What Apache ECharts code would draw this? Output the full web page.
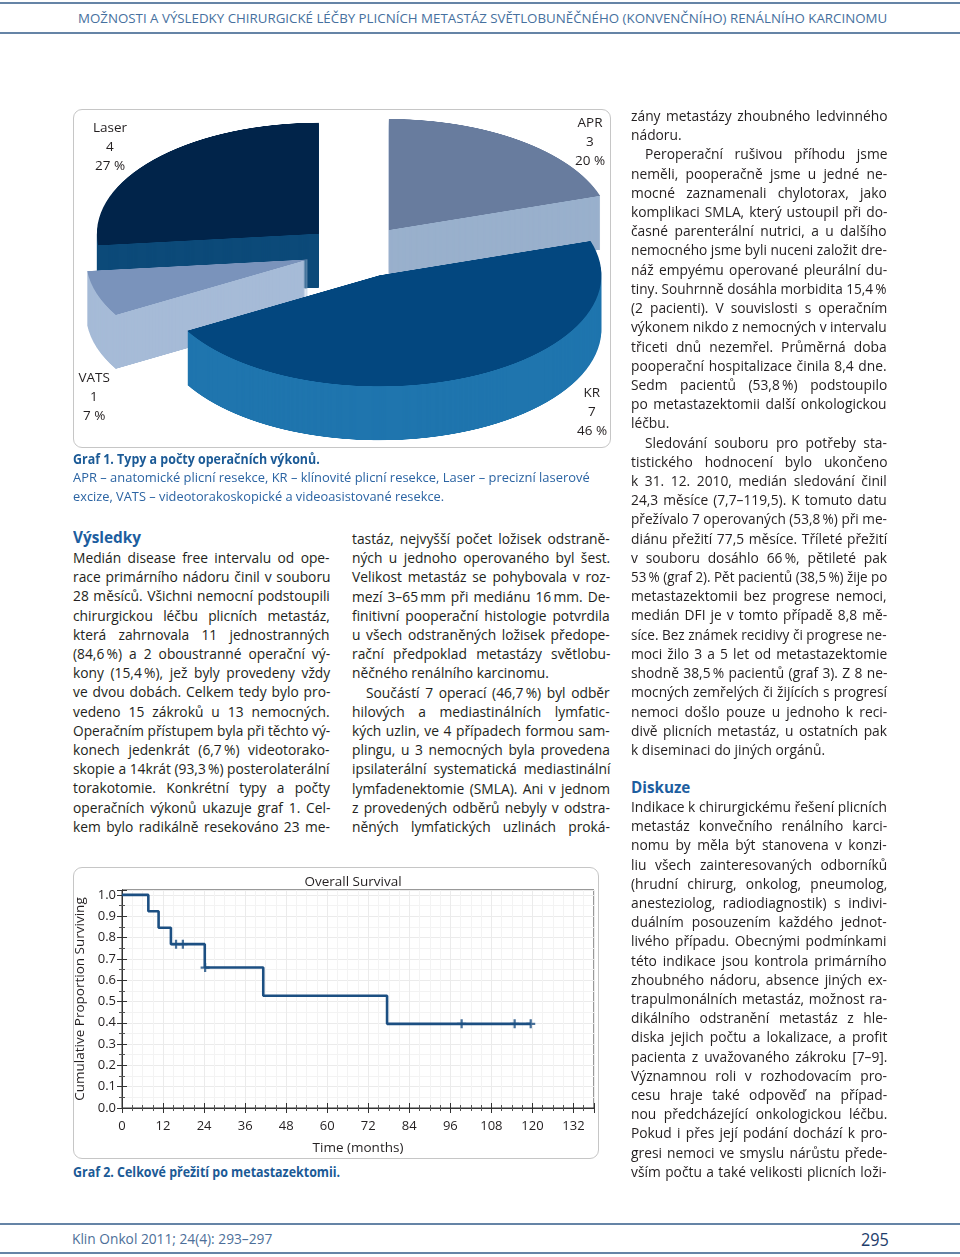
<!DOCTYPE html>
<html><head><meta charset="utf-8">
<script src="https://cdn.jsdelivr.net/npm/echarts@6.0.0/dist/echarts.min.js"></script>
<style>
html,body{margin:0;padding:0;background:#fff;}
body{width:960px;height:1257px;position:relative;overflow:hidden;font-family:"Open Sans","Noto Sans",sans-serif;}
.abs{position:absolute;white-space:nowrap;}
.rule{position:absolute;left:0;width:960px;height:2px;background:#6584a6;}
.frame{position:absolute;border:1px solid #c6c6c6;border-radius:9px;box-sizing:border-box;}
</style></head><body>
<div class="rule" style="top:2px"></div>
<div class="rule" style="top:32px"></div>
<div class="rule" style="top:1223px"></div>
<div class="rule" style="top:1252px"></div>
<div class="frame" style="left:73px;top:109px;width:538px;height:339px"></div>
<div class="frame" style="left:73px;top:867px;width:526px;height:292px"></div>
<div id="pie" style="position:absolute;left:0;top:108px;width:960px;height:720px;transform:scaleY(0.5);transform-origin:0 0;"></div>
<div id="surv" style="position:absolute;left:73px;top:867px;width:526px;height:292px;"></div>
<div id="txt"></div>
<script>
// ---------------- DATA ----------------
// Graf 1 – pie
const pieCategories = ['APR', 'KR', 'VATS', 'Laser'];
const pieCounts = [3, 7, 1, 4];
const piePercents = [20, 46, 7, 27];
// Graf 2 – Kaplan-Meier overall survival
const survTimes  = [0, 7.7, 10.7, 14.3, 24.2, 41.3, 77.5, 119.5];
const survValues = [1.0, 0.923, 0.846, 0.769, 0.659, 0.527, 0.395, 0.395];
const censorTimes  = [15.8, 17.8, 24.3, 99.3, 114.8, 119.5];
const censorValues = [0.769, 0.769, 0.659, 0.395, 0.395, 0.395];
const xTickStep = 12;
const xTickMaxLabel = 132;
const yTickStep = 0.1;

// ---------------- STYLES ----------------
const FONT = '"Open Sans","Noto Sans",sans-serif';
const pieTopColors  = ['#687c9e', '#03477f', '#7a93bb', '#01244a'];
const pieSideColors = ['#99b0cc', '#1f75ae', '#a6bbd7', '#0c4a79'];
const pieLabelPos = { APR:[590,123], KR:[592,393], VATS:[94,378], Laser:[110,128] };
const BODY_SIZE = 13.8;

// ---------------- TEXT HELPERS ----------------
const txt = document.getElementById('txt');
function addLine(text, o) {
  const d = document.createElement('div');
  d.className = 'abs';
  d.style.left = o.x + 'px';
  d.style.top = (o.yc - 11) + 'px';
  d.style.height = '20px';
  d.style.font = (o.weight || 400) + ' ' + o.size + 'px ' + FONT;
  d.style.lineHeight = '20px';
  d.style.color = o.color || '#231f20';
  d.style.transformOrigin = '0 50%';
  const s = document.createElement('span');
  s.textContent = text;
  d.appendChild(s);
  txt.appendChild(d);
  const nat = s.offsetWidth;
  if (o.mode === 'fit') {
    d.style.transform = 'scaleX(' + (o.w / nat) + ')';
  } else if (o.mode === 'justify') {
    if (nat > o.w) {
      d.style.transform = 'scaleX(' + (o.w / nat) + ')';
    } else {
      const n = (text.match(/ /g) || []).length;
      if (n > 0) s.style.wordSpacing = ((o.w - nat) / n) + 'px';
    }
  } else if (o.mode === 'shrink') {
    if (nat > o.w) d.style.transform = 'scaleX(' + (o.w / nat) + ')';
  }
  return d;
}
function addColumn(lines, x, w, y0, lh) {
  lines.forEach((raw, i) => {
    let t = raw, indent = 0, mode = 'justify';
    if (t.startsWith('>')) { indent = 14; t = t.slice(1); }
    if (t.endsWith('¶')) { mode = 'shrink'; t = t.slice(0, -1); }
    addLine(t, { x: x + indent, yc: y0 + i * lh, w: w - indent, size: BODY_SIZE, mode });
  });
}

// header / footer
addLine('MOŽNOSTI A VÝSLEDKY CHIRURGICKÉ LÉČBY PLICNÍCH METASTÁZ SVĚTLOBUNĚČNÉHO (KONVENČNÍHO) RENÁLNÍHO KARCINOMU',
  { x: 78, yc: 19, w: 809, size: 13.5, color: '#46709e', mode: 'fit' });
addLine('Klin Onkol 2011; 24(4): 293–297', { x: 72, yc: 1240, w: 200, size: 14, color: '#4d6f99', mode: 'fit' });
addLine('295', { x: 861, yc: 1240, w: 28, size: 18, color: '#1e3d6b', mode: 'fit' });

// captions and headings
const BLUE = '#1b5a96';
addLine('Graf 1. Typy a počty operačních výkonů.', { x: 73, yc: 460, w: 247, size: 13.5, weight: 700, color: BLUE, mode: 'fit' });
addLine('APR – anatomické plicní resekce, KR – klínovité plicní resekce, Laser – precizní laserové', { x: 73, yc: 478, w: 517, size: 13.5, color: '#2b64a3', mode: 'fit' });
addLine('excize, VATS – videotorakoskopické a videoasistované resekce.', { x: 73, yc: 497, w: 371, size: 13.5, color: '#2b64a3', mode: 'fit' });
addLine('Graf 2. Celkové přežití po metastazektomii.', { x: 73, yc: 1173, w: 267, size: 13.5, weight: 700, color: BLUE, mode: 'fit' });
addLine('Výsledky', { x: 73, yc: 538, w: 68, size: 16, weight: 700, color: '#1d5e9f', mode: 'fit' });
addLine('Diskuze', { x: 631, yc: 788, w: 59, size: 16, weight: 700, color: '#1d5e9f', mode: 'fit' });

const colLeft = [
  'Medián disease free intervalu od ope-',
  'race primárního nádoru činil v souboru',
  '28 měsíců. Všichni nemocní podstoupili',
  'chirurgickou léčbu plicních metastáz,',
  'která zahrnovala 11 jednostranných',
  '(84,6\u2009%) a 2 oboustranné operační vý-',
  'kony (15,4\u2009%), jež byly provedeny vždy',
  've dvou dobách. Celkem tedy bylo pro-',
  'vedeno 15 zákroků u 13 nemocných.',
  'Operačním přístupem byla při těchto vý-',
  'konech jedenkrát (6,7\u2009%) videotorako-',
  'skopie a 14krát (93,3\u2009%) posterolaterální',
  'torakotomie. Konkrétní typy a počty',
  'operačních výkonů ukazuje graf 1. Cel-',
  'kem bylo radikálně resekováno 23 me-'
];
const colMid = [
  'tastáz, nejvyšší počet ložisek odstraně-',
  'ných u jednoho operovaného byl šest.',
  'Velikost metastáz se pohybovala v roz-',
  'mezí 3–65\u2009mm při mediánu 16\u2009mm. De-',
  'finitivní pooperační histologie potvrdila',
  'u všech odstraněných ložisek předope-',
  'rační předpoklad metastázy světlobu-',
  'něčného renálního karcinomu.¶',
  '>Součástí 7 operací (46,7\u2009%) byl odběr',
  'hilových a mediastinálních lymfatic-',
  'kých uzlin, ve 4 případech formou sam-',
  'plingu, u 3 nemocných byla provedena',
  'ipsilaterální systematická mediastinální',
  'lymfadenektomie (SMLA). Ani v jednom',
  'z provedených odběrů nebyly v odstra-',
  'něných lymfatických uzlinách proká-'
];
const colRight = [
  'zány metastázy zhoubného ledvinného',
  'nádoru.¶',
  '>Peroperační rušivou příhodu jsme',
  'neměli, pooperačně jsme u jedné ne-',
  'mocné zaznamenali chylotorax, jako',
  'komplikaci SMLA, který ustoupil při do-',
  'časné parenterální nutrici, a u dalšího',
  'nemocného jsme byli nuceni založit dre-',
  'náž empyému operované pleurální du-',
  'tiny. Souhrnně dosáhla morbidita 15,4\u2009%',
  '(2 pacienti). V souvislosti s operačním',
  'výkonem nikdo z nemocných v intervalu',
  'třiceti dnů nezemřel. Průměrná doba',
  'pooperační hospitalizace činila 8,4 dne.',
  'Sedm pacientů (53,8\u2009%) podstoupilo',
  'po metastazektomii další onkologickou',
  'léčbu.¶',
  '>Sledování souboru pro potřeby sta-',
  'tistického hodnocení bylo ukončeno',
  'k 31. 12. 2010, medián sledování činil',
  '24,3 měsíce (7,7–119,5). K tomuto datu',
  'přežívalo 7 operovaných (53,8\u2009%) při me-',
  'diánu přežití 77,5 měsíce. Tříleté přežití',
  'v souboru dosáhlo 66\u2009%, pětileté pak',
  '53\u2009% (graf 2). Pět pacientů (38,5\u2009%) žije po',
  'metastazektomii bez progrese nemoci,',
  'medián DFI je v tomto případě 8,8 mě-',
  'síce. Bez známek recidivy či progrese ne-',
  'moci žilo 3 a 5 let od metastazektomie',
  'shodně 38,5\u2009% pacientů (graf 3). Z 8 ne-',
  'mocných zemřelých či žijících s progresí',
  'nemoci došlo pouze u jednoho k reci-',
  'divě plicních metastáz, u ostatních pak',
  'k diseminaci do jiných orgánů.¶'
];
const colRight2 = [
  'Indikace k chirurgickému řešení plicních',
  'metastáz konvečního renálního karci-',
  'nomu by měla být stanovena v konzi-',
  'liu všech zainteresovaných odborníků',
  '(hrudní chirurg, onkolog, pneumolog,',
  'anesteziolog, radiodiagnostik) s indivi-',
  'duálním posouzením každého jednot-',
  'livého případu. Obecnými podmínkami',
  'této indikace jsou kontrola primárního',
  'zhoubného nádoru, absence jiných ex-',
  'trapulmonálních metastáz, možnost ra-',
  'dikálního odstranění metastáz z hle-',
  'diska jejich počtu a lokalizace, a profit',
  'pacienta z uvažovaného zákroku [7–9].',
  'Významnou roli v rozhodovacím pro-',
  'cesu hraje také odpověď na případ-',
  'nou předcházející onkologickou léčbu.',
  'Pokud i přes její podání dochází k pro-',
  'gresi nemoci ve smyslu nárůstu přede-',
  'vším počtu a také velikosti plicních loži-'
];
addColumn(colLeft, 73, 257, 559, 19.2);
addColumn(colMid, 352, 258, 540, 19.2);
addColumn(colRight, 631, 256, 117, 19.21);
addColumn(colRight2, 631, 256, 808, 19.2);

// pie labels (text built from data arrays)
pieCategories.forEach((name, i) => {
  const p = pieLabelPos[name];
  [name, String(pieCounts[i]), piePercents[i] + ' %'].forEach((t, j) => {
    const d = addLine(t, { x: 0, yc: p[1] + j * 19, w: 0, size: 13.5, color: '#231f20', mode: 'none' });
    d.style.left = (p[0] - d.firstChild.offsetWidth / 2) + 'px';
  });
});

// ---------------- PIE (pseudo-3D) ----------------
const PIE = { cx: 358, cy: (251.3 - 108) * 2, r: 222, offset: 52.6, depth: 108, step: 2 };
function pieData(visible, colors) {
  return pieCategories.map((name, i) => {
    const c = visible.indexOf(i) >= 0 ? colors[i] : 'rgba(0,0,0,0)';
    return { name, value: pieCounts[i], selected: true,
      itemStyle: { color: c, borderWidth: 0 },
      select: { itemStyle: { color: c, borderWidth: 0 } } };
  });
}
function pieSeries(dy, visible, colors, z) {
  return { type: 'pie', center: [PIE.cx, PIE.cy + dy], radius: PIE.r, startAngle: 90, clockwise: true,
    selectedMode: 'multiple', selectedOffset: PIE.offset, silent: true, z: z,
    label: { show: false }, labelLine: { show: false }, emphasis: { disabled: true },
    itemStyle: { borderWidth: 0 }, animation: false, data: pieData(visible, colors) };
}
const pieSeriesList = [];
for (let k = PIE.depth; k >= PIE.step; k -= PIE.step) {
  pieSeriesList.push(pieSeries(k, [0, 3], pieSideColors, 1));
  pieSeriesList.push(pieSeries(k, [2], pieSideColors, 2));
  pieSeriesList.push(pieSeries(k, [1], pieSideColors, 4));
}
pieSeriesList.push(pieSeries(0, [0, 2, 3], pieTopColors, 3));
pieSeriesList.push(pieSeries(0, [1], pieTopColors, 5));
const pieChart = echarts.init(document.getElementById('pie'), null, { renderer: 'canvas', devicePixelRatio: 2 });
pieChart.setOption({ animation: false, backgroundColor: 'transparent', series: pieSeriesList });

// ---------------- SURVIVAL ----------------
const survChart = echarts.init(document.getElementById('surv'));
const axisTxt = { color: '#231f20', fontSize: 13, fontFamily: FONT };
const lineColor = '#1c4f82';
const xMax = 138, yMax = 1.023;
const fmtX = v => (Math.abs(v % xTickStep) < 1e-6 && v <= xTickMaxLabel) ? String(v) : '';
const fmtY = v => { const r = Math.round(v / yTickStep); return (Math.abs(v - r * yTickStep) < 1e-6 && v <= 1.0001) ? (r * yTickStep).toFixed(1) : ''; };
survChart.setOption({
  animation: false,
  title: { text: 'Overall Survival', left: 275, top: 3, textAlign: 'center',
    textStyle: { fontSize: 13.5, fontWeight: 'normal', color: '#231f20', fontFamily: FONT } },
  grid: { left: 49, top: 23, width: 472, height: 218, outerBoundsMode: 'none', containLabel: false,
    show: true, borderColor: '#333', borderWidth: 1 },
  xAxis: [{
    type: 'value', min: 0, max: xMax, interval: xTickStep,
    name: 'Time (months)', nameLocation: 'middle', nameGap: 33, nameTextStyle: Object.assign({}, axisTxt, { fontSize: 13.5 }),
    axisLine: { show: true, onZero: false, lineStyle: { color: '#333', width: 1 } },
    axisTick: { show: true, inside: true, length: 5, lineStyle: { color: '#333' } },
    minorTick: { show: true, splitNumber: 4, length: 3, lineStyle: { color: '#555' } },
    axisLabel: Object.assign({ margin: 12, formatter: fmtX }, axisTxt),
    splitLine: { show: true, lineStyle: { color: '#ebebeb', width: 1 } },
    minorSplitLine: { show: true, lineStyle: { color: '#f3f3f3', width: 1 } }
  }, {
    type: 'value', min: 0, max: xMax, interval: xTickStep, position: 'top',
    axisLine: { show: true, lineStyle: { color: '#333' } },
    axisTick: { show: true, inside: true, length: 5, lineStyle: { color: '#333' } },
    minorTick: { show: true, splitNumber: 4, length: 3, lineStyle: { color: '#555' } },
    axisLabel: { show: false }, splitLine: { show: false }
  }],
  yAxis: [{
    type: 'value', min: 0, max: yMax, interval: yTickStep,
    name: 'Cumulative Proportion Surviving', nameLocation: 'middle', nameGap: 22, nameRotate: 90,
    nameTextStyle: Object.assign({}, axisTxt, { fontSize: 13.5 }),
    axisLine: { show: true, onZero: false, lineStyle: { color: '#333', width: 1 } },
    axisTick: { show: true, inside: true, length: 5, lineStyle: { color: '#333' } },
    minorTick: { show: true, splitNumber: 2, length: 3, lineStyle: { color: '#555' } },
    axisLabel: Object.assign({ margin: 6, formatter: fmtY }, axisTxt),
    splitLine: { show: true, lineStyle: { color: '#ebebeb', width: 1 } },
    minorSplitLine: { show: true, lineStyle: { color: '#f3f3f3', width: 1 } }
  }, {
    type: 'value', min: 0, max: yMax, interval: yTickStep, position: 'right',
    axisLine: { show: true, lineStyle: { color: '#333' } },
    axisTick: { show: true, inside: true, length: 5, lineStyle: { color: '#333' } },
    minorTick: { show: true, splitNumber: 2, length: 3, lineStyle: { color: '#555' } },
    axisLabel: { show: false }, splitLine: { show: false }
  }],
  series: [{
    type: 'line', step: 'end', silent: true, symbol: 'none',
    lineStyle: { color: lineColor, width: 2.6 },
    data: survTimes.map((t, i) => [t, survValues[i]]), z: 3
  }, {
    type: 'scatter', silent: true, symbol: 'path://M3,0H5V3H8V5H5V8H3V5H0V3H3Z', symbolSize: 9,
    itemStyle: { color: lineColor }, z: 4,
    data: censorTimes.map((t, i) => [t, censorValues[i]])
  }]
});
</script>
</body></html>
